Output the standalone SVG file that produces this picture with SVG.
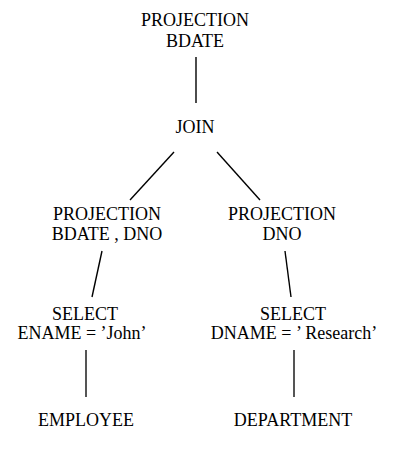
<svg xmlns="http://www.w3.org/2000/svg" width="403" height="451" viewBox="0 0 403 451">
<style>
text{font-family:"Liberation Serif","Times New Roman",serif;font-size:18px;fill:#000;text-anchor:middle}
.e{stroke:#000;stroke-width:1.4;fill:none}
.g{stroke:#555;stroke-width:2;fill:none}
</style>
<rect width="403" height="451" fill="#fff"/>
<g id="connectors">
<line class="e" x1="196" y1="57" x2="196" y2="103"/>
<line class="e" x1="174" y1="152" x2="130" y2="200"/>
<line class="e" x1="217" y1="152" x2="260" y2="200"/>
<line class="e" x1="102" y1="251" x2="92" y2="297"/>
<line class="e" x1="285" y1="251" x2="291" y2="297"/>
<line class="g" x1="86" y1="350" x2="86" y2="397"/>
<line class="g" x1="294" y1="350" x2="294" y2="397"/>
</g>
<g id="proj-top"><text x="195" y="26">PROJECTION</text><text x="195" y="47">BDATE</text></g>
<g id="join"><text x="195" y="133">JOIN</text></g>
<g id="proj-left"><text x="107" y="220">PROJECTION</text><text x="107" y="240">BDATE , DNO</text></g>
<g id="proj-right"><text x="282" y="220">PROJECTION</text><text x="282" y="240">DNO</text></g>
<g id="select-left"><text x="85" y="320">SELECT</text><text x="82" y="339">ENAME = ’John’</text></g>
<g id="select-right"><text x="293" y="320">SELECT</text><text x="294" y="339">DNAME = ’ Research’</text></g>
<g id="employee"><text x="86" y="426">EMPLOYEE</text></g>
<g id="department"><text x="293" y="426">DEPARTMENT</text></g>
</svg>
